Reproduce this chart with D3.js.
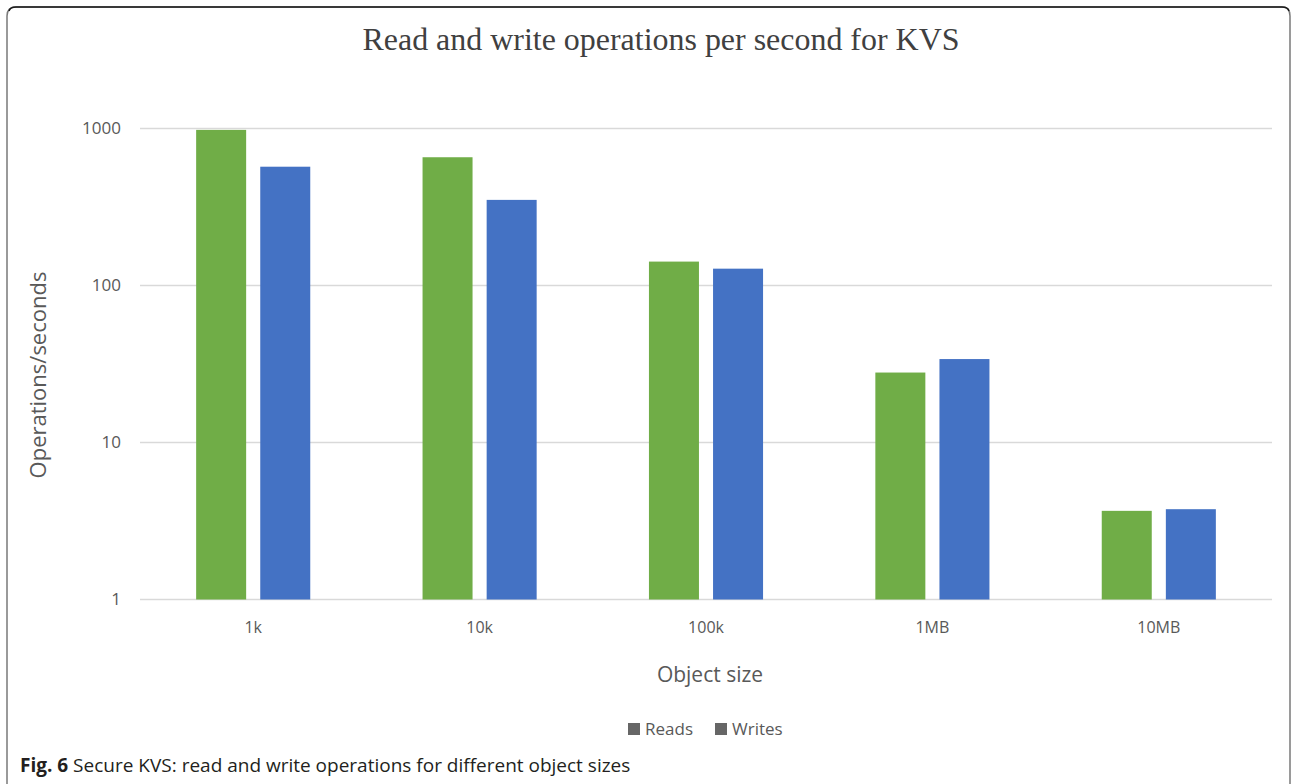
<!DOCTYPE html>
<html>
<head>
<meta charset="utf-8">
<script src="https://cdn.jsdelivr.net/npm/d3@7"></script>
<style>
  html, body { margin: 0; padding: 0; background: #ffffff; }
  svg { display: block; }
</style>
</head>
<body>
<svg id="chart" width="1292" height="784"></svg>
<script>
// Object sizes on the x axis
const categories = ["1k", "10k", "100k", "1MB", "10MB"];
// Operations per second, per object size
const reads  = [980, 656, 142, 27.9, 3.67];
const writes = [571, 351, 128, 34, 3.76];
// Series names shown in the legend
const seriesNames = ["Reads", "Writes"];
// Log-axis tick values
const yTicks = [1, 10, 100, 1000];

const colors = { Reads: "#70AD47", Writes: "#4472C4" };

const svg = d3.select("#chart");
const W = 1292, H = 784;
const plot = { left: 140, right: 1272, top: 128.5, bottom: 599.5 };
const sans = "'Open Sans', 'Noto Sans', sans-serif";

// Figure frame: dark top edge with rounded corners, grey sides running off the bottom
svg.append("path")
  .attr("d", `M7,${H} L7,16 Q7,7 16,7 L1282,7 Q1290,7 1290,16 L1290,${H}`)
  .attr("fill", "none")
  .attr("stroke", "#7a7a7a")
  .attr("stroke-width", 1.5);
svg.append("path")
  .attr("d", `M9,11 Q10,7 16,7 L1282,7 Q1288,7 1289,11`)
  .attr("fill", "none")
  .attr("stroke", "#1a1a1a")
  .attr("stroke-width", 1.5);

const x0 = d3.scaleBand()
  .domain(categories)
  .range([plot.left, plot.right])
  .paddingInner(0.496)
  .paddingOuter(0.248);

const x1 = d3.scaleBand()
  .domain(seriesNames)
  .range([0, x0.bandwidth()])
  .paddingInner(0.22);

const y = d3.scaleLog()
  .domain([1, 1000])
  .range([plot.bottom, plot.top]);

// Horizontal gridlines
svg.append("g")
  .selectAll("line")
  .data(yTicks)
  .join("line")
  .attr("x1", plot.left)
  .attr("x2", plot.right)
  .attr("y1", d => y(d))
  .attr("y2", d => y(d))
  .attr("stroke", "#d9d9d9")
  .attr("stroke-width", 1.6);

// Y axis labels
const yAxis = d3.axisLeft(y)
  .tickValues(yTicks)
  .tickFormat(d3.format("d"))
  .tickSize(0)
  .tickPadding(0);
const gy = svg.append("g")
  .attr("transform", `translate(${121},0)`)
  .call(yAxis);
gy.select(".domain").remove();
gy.selectAll("text")
  .attr("fill", "#595959")
  .attr("font-family", sans)
  .attr("font-size", 17);

// Bars
const rows = categories.map((c, i) => ({ cat: c, Reads: reads[i], Writes: writes[i] }));
svg.append("g")
  .selectAll("g")
  .data(rows)
  .join("g")
  .attr("transform", d => `translate(${x0(d.cat)},0)`)
  .selectAll("rect")
  .data(d => seriesNames.map(k => ({ key: k, value: d[k] })))
  .join("rect")
  .attr("x", d => x1(d.key))
  .attr("width", x1.bandwidth())
  .attr("y", d => y(d.value))
  .attr("height", d => y(1) - y(d.value))
  .attr("fill", d => colors[d.key]);

// X axis labels
const xAxis = d3.axisBottom(x0).tickSize(0).tickPadding(0);
const gx = svg.append("g")
  .attr("transform", `translate(0,${633})`)
  .call(xAxis);
gx.select(".domain").remove();
gx.selectAll("text")
  .attr("dy", 0)
  .attr("fill", "#595959")
  .attr("font-family", sans)
  .attr("font-size", 16);

// Title
svg.append("text")
  .attr("x", 661)
  .attr("y", 50)
  .attr("text-anchor", "middle")
  .attr("fill", "#404040")
  .attr("font-family", "'Liberation Serif', 'DejaVu Serif', serif")
  .attr("font-size", 31)
  .attr("textLength", 597)
  .attr("lengthAdjust", "spacingAndGlyphs")
  .text("Read and write operations per second for KVS");

// Axis titles
svg.append("text")
  .attr("transform", "translate(46,375) rotate(-90)")
  .attr("text-anchor", "middle")
  .attr("fill", "#595959")
  .attr("font-family", sans)
  .attr("font-size", 22)
  .text("Operations/seconds");

svg.append("text")
  .attr("x", 710)
  .attr("y", 682)
  .attr("text-anchor", "middle")
  .attr("fill", "#595959")
  .attr("font-family", sans)
  .attr("font-size", 21)
  .text("Object size");

// Legend
const legend = svg.append("g").attr("transform", "translate(628,723)");
const legendX = { Reads: 0, Writes: 87 };
seriesNames.forEach(k => {
  const g = legend.append("g").attr("transform", `translate(${legendX[k]},0)`);
  g.append("rect").attr("width", 12).attr("height", 12).attr("fill", "#666666");
  g.append("text")
    .attr("x", 17)
    .attr("y", 12)
    .attr("fill", "#595959")
    .attr("font-family", sans)
    .attr("font-size", 17)
    .text(k);
});

// Caption
const cap = svg.append("text")
  .attr("x", 20)
  .attr("y", 772)
  .attr("fill", "#231f20")
  .attr("font-family", sans)
  .attr("font-size", 19);
cap.append("tspan").attr("font-weight", "bold").text("Fig. 6");
cap.append("tspan").text(" Secure KVS: read and write operations for different object sizes");
</script>
</body>
</html>
